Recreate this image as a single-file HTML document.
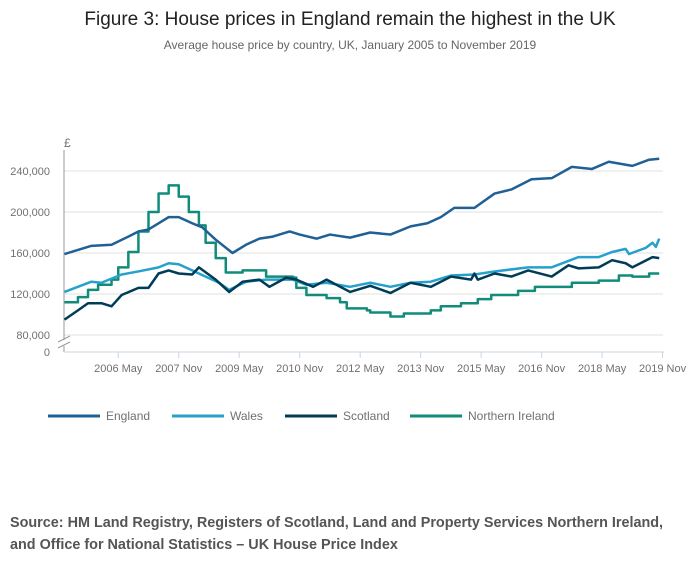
<!DOCTYPE html>
<html><head><meta charset="utf-8"><style>
body{margin:0;background:#fff;font-family:"Liberation Sans",sans-serif;}
svg text{font-family:"Liberation Sans",sans-serif;}
</style></head><body>
<svg width="700" height="574">
<text x="350" y="25" text-anchor="middle" font-size="19" fill="#222">Figure 3: House prices in England remain the highest in the UK</text>
<text x="350" y="49" text-anchor="middle" font-size="12" fill="#666">Average house price by country, UK, January 2005 to November 2019</text>
<text x="64" y="147" font-size="12" fill="#707071">£</text>
<g id="grid"></g>
<g id="yticks"></g>
<g id="xticks"></g>
<g id="series"></g>
<g id="legend"></g>
<text x="10" y="527" font-size="14.4" font-weight="bold" fill="#555">Source: HM Land Registry, Registers of Scotland, Land and Property Services Northern Ireland,</text>
<text x="10" y="549" font-size="14.4" font-weight="bold" fill="#555">and Office for National Statistics – UK House Price Index</text>
</svg>
<script>
const yTicks=[80000,120000,160000,200000,240000];
const yTickLabels=["80,000","120,000","160,000","200,000","240,000"];
const xTickMonths=[16,34,52,70,88,106,124,142,160,178];
const xTickLabels=["2006 May","2007 Nov","2009 May","2010 Nov","2012 May","2013 Nov","2015 May","2016 Nov","2018 May","2019 Nov"];
const seriesNames=["England","Wales","Scotland","Northern Ireland"];
const englandMonths=[0,8,14,19,22,25,28,31,34,38,41,45,50,54,58,62,67,70,75,79,85,91,97,103,108,112,116,122,128,133,139,145,151,157,162,169,174,177];
const englandValues=[159000,167000,168000,176000,181000,183000,189000,195000,195000,189000,185000,173000,160000,168000,174000,176000,181000,178000,174000,178000,175000,180000,178000,186000,189000,195000,204000,204000,218000,222000,232000,233000,244000,242000,249000,245000,251000,252000];
const walesMonths=[0,8,11,17,22,28,31,34,38,42,46,49,54,60,68,72,78,85,91,97,103,109,115,122,128,138,145,153,159,163,167,168,173,175,176,177];
const walesValues=[122000,132000,131000,139000,142000,146000,150000,149000,143000,137000,131000,124000,132000,134000,134000,129000,131000,127000,131000,127000,131000,132000,138000,139000,142000,146000,146000,156000,156000,161000,164000,159000,165000,170000,166000,174000];
const scotlandMonths=[0,4,7,11,14,17,22,25,28,31,34,38,40,45,49,53,58,61,66,69,74,78,85,91,97,103,109,115,121,122,123,128,133,138,145,150,153,159,163,167,169,172,175,177];
const scotlandValues=[95000,104000,111000,111000,108000,119000,126000,126000,140000,143000,140000,139000,146000,134000,122000,132000,134000,127000,136000,134000,127000,134000,122000,128000,121000,131000,127000,137000,134000,140000,134000,140000,137000,143000,137000,148000,145000,146000,153000,150000,146000,151000,156000,155000];
const niMonths=[0,4,7,10,14,16,19,22,25,28,31,34,37,40,42,45,48,53,60,68,69,72,78,82,84,90,91,97,101,109,112,118,123,127,135,140,147,151,159,165,169,174,177];
const niValues=[112000,117000,124000,129000,134000,146000,161000,181000,200000,218000,226000,215000,200000,187000,170000,155000,141000,143000,137000,136000,126000,119000,116000,112000,106000,104000,102000,98000,101000,104000,108000,111000,115000,119000,123000,127000,127000,131000,133000,138000,137000,140000,140000];
const colors=["#206095","#27a0cc","#003c57","#118c7b"];
const NS="http://www.w3.org/2000/svg";
const x=m=>64.5+m*3.36;
const y=v=>335-(v-80000)/40000*41;
function mk(tag,attrs,parent){const e=document.createElementNS(NS,tag);for(const k in attrs)e.setAttribute(k,attrs[k]);parent.appendChild(e);return e;}
const grid=document.getElementById('grid'),yt=document.getElementById('yticks'),xt=document.getElementById('xticks'),ser=document.getElementById('series'),leg=document.getElementById('legend');
yTicks.forEach((v,i)=>{
 const l=mk('line',{x1:64,x2:663,y1:y(v),y2:y(v),stroke:'#e0e0e0','stroke-width':1},grid);
 
 
 const t=mk('text',{x:50,y:y(v)+4,'text-anchor':'end','font-size':11,fill:'#707071'},yt);
 t.textContent=yTickLabels[i];
 
 
});
const z=mk('text',{x:50,y:356,'text-anchor':'end','font-size':11,fill:'#707071'},yt);z.textContent="0";


mk('line',{x1:64,x2:64,y1:150,y2:340,stroke:'#999'},xt);
mk('line',{x1:64,x2:64,y1:346,y2:352,stroke:'#999'},xt);
mk('line',{x1:58,x2:70,y1:342,y2:336,stroke:'#999'},xt);
mk('line',{x1:58,x2:70,y1:348,y2:342,stroke:'#999'},xt);
mk('line',{x1:64,x2:664,y1:352,y2:352,stroke:'#c8d4e6'},xt);
xTickMonths.forEach((m,i)=>{
 mk('line',{x1:x(m),x2:x(m),y1:352,y2:358,stroke:'#c8d4e6'},xt);
 const t=mk('text',{x:x(m),y:372,'text-anchor':'middle','font-size':11,fill:'#707071'},xt);
 t.textContent=xTickLabels[i];
 
 
});
function line(ms,vs,c,name,step){
 let d='';
 ms.forEach((m,i)=>{
  if(i===0)d+='M'+x(m)+','+y(vs[i]);
  else if(step)d+='H'+x(m)+'V'+y(vs[i]);
  else d+='L'+x(m)+','+y(vs[i]);
 });
 const p=mk('path',{d:d,fill:'none',stroke:c,'stroke-width':2.5,'stroke-linejoin':'round'},ser);
 
 
}
line(niMonths,niValues,colors[3],'northern-ireland-line',true);
line(walesMonths,walesValues,colors[1],'wales-line',false);
line(scotlandMonths,scotlandValues,colors[2],'scotland-line',false);
line(englandMonths,englandValues,colors[0],'england-line',false);
const lx=[48,172,285,410];
seriesNames.forEach((n,i)=>{
 const l=mk('line',{x1:lx[i],x2:lx[i]+52,y1:416,y2:416,stroke:colors[i],'stroke-width':3},leg);
 
 
 const t=mk('text',{x:lx[i]+58,y:420,'font-size':12,fill:'#707071'},leg);
 t.textContent=n;
 
 
});
</script>
</body></html>
